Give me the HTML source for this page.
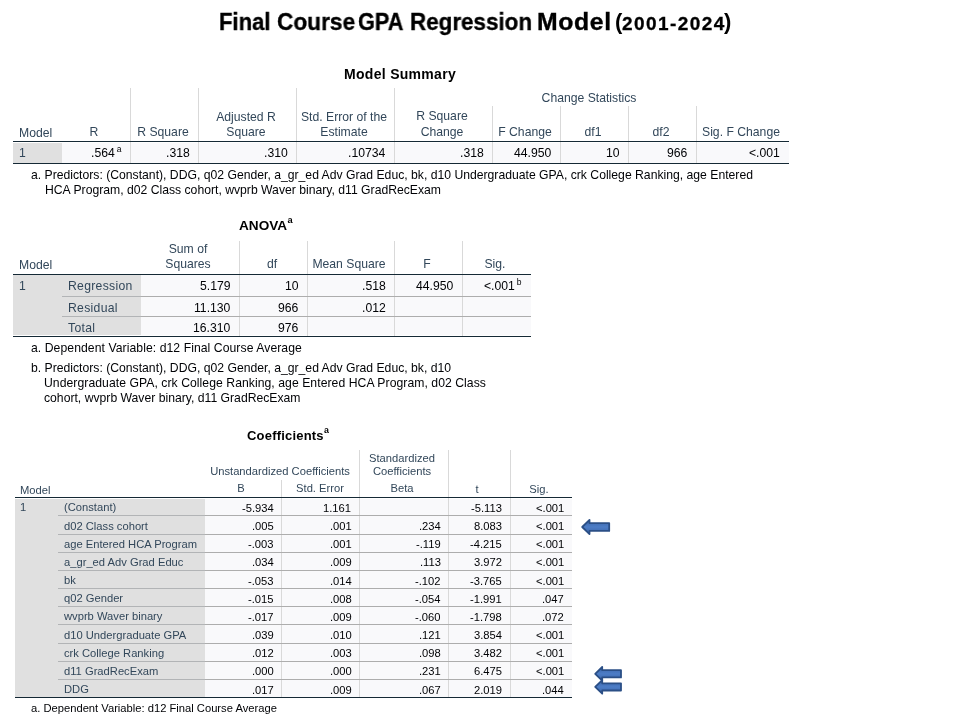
<!DOCTYPE html>
<html><head><meta charset="utf-8"><style>
html,body{margin:0;padding:0;background:#fff;}
body{width:960px;height:720px;position:relative;overflow:hidden;font-family:"Liberation Sans",sans-serif;}
.t{position:absolute;white-space:nowrap;will-change:transform;}
.r{position:absolute;}
sup{font-size:0.7em;line-height:0;vertical-align:4.6px;margin-left:1.9px;margin-right:0.6px;}
sup.ts{font-size:0.68em;font-weight:bold;margin-left:0.3px;vertical-align:0.8em;}
</style></head><body>
<div class="t" style="top:10.71px;font-size:23.5px;line-height:23.5px;color:#000;font-weight:bold;left:218.76px;transform:scaleX(0.9385);transform-origin:0 0;-webkit-text-stroke:0.35px #000;">Final</div>
<div class="t" style="top:10.71px;font-size:23.5px;line-height:23.5px;color:#000;font-weight:bold;left:277.04px;transform:scaleX(0.9646);transform-origin:0 0;-webkit-text-stroke:0.35px #000;">Course</div>
<div class="t" style="top:10.71px;font-size:23.5px;line-height:23.5px;color:#000;font-weight:bold;left:358.28px;transform:scaleX(0.9229);transform-origin:0 0;-webkit-text-stroke:0.35px #000;">GPA</div>
<div class="t" style="top:10.71px;font-size:23.5px;line-height:23.5px;color:#000;font-weight:bold;left:410.25px;transform:scaleX(0.9532);transform-origin:0 0;-webkit-text-stroke:0.35px #000;">Regression</div>
<div class="t" style="top:10.71px;font-size:23.5px;line-height:23.5px;color:#000;font-weight:bold;letter-spacing:0.6px;left:537.45px;transform:scaleX(1.055);transform-origin:0 0;-webkit-text-stroke:0.35px #000;">Model</div>
<div class="t" style="top:11.18px;font-size:22px;line-height:22px;color:#000;font-weight:bold;left:615.20px;">(</div>
<div class="t" style="top:13.82px;font-size:19px;line-height:19px;color:#000;font-weight:bold;letter-spacing:1.43px;left:622.30px;-webkit-text-stroke:0.3px #000;">2001-2024</div>
<div class="t" style="top:11.18px;font-size:22px;line-height:22px;color:#000;font-weight:bold;left:724.00px;">)</div>
<div class="t" style="top:67.15px;font-size:14px;line-height:14px;color:#000;font-weight:bold;letter-spacing:0.3px;left:343.90px;">Model Summary</div>
<div class="r" style="left:13.00px;top:142.50px;width:776.00px;height:20.00px;background:#f9f9fb"></div>
<div class="r" style="left:13.00px;top:142.50px;width:49.00px;height:20.00px;background:#e0e0e0"></div>
<div class="r" style="left:130.00px;top:88.00px;width:1.00px;height:75.30px;background:#d9d9d9"></div>
<div class="r" style="left:198.00px;top:88.00px;width:1.00px;height:75.30px;background:#d9d9d9"></div>
<div class="r" style="left:296.00px;top:88.00px;width:1.00px;height:75.30px;background:#d9d9d9"></div>
<div class="r" style="left:394.00px;top:88.00px;width:1.00px;height:75.30px;background:#d9d9d9"></div>
<div class="r" style="left:492.00px;top:106.00px;width:1.00px;height:57.30px;background:#d9d9d9"></div>
<div class="r" style="left:560.00px;top:106.00px;width:1.00px;height:57.30px;background:#d9d9d9"></div>
<div class="r" style="left:628.00px;top:106.00px;width:1.00px;height:57.30px;background:#d9d9d9"></div>
<div class="r" style="left:696.00px;top:106.00px;width:1.00px;height:57.30px;background:#d9d9d9"></div>
<div class="r" style="left:13.00px;top:140.75px;width:776.00px;height:1.50px;background:#152935"></div>
<div class="r" style="left:13.00px;top:162.55px;width:776.00px;height:1.50px;background:#152935"></div>
<div class="t" style="top:127.17px;font-size:12.2px;line-height:12.2px;color:#32475a;left:19.00px;">Model</div>
<div class="t" style="top:126.37px;font-size:12.2px;line-height:12.2px;color:#32475a;left:-205.75px;width:600px;text-align:center;">R</div>
<div class="t" style="top:126.37px;font-size:12.2px;line-height:12.2px;color:#32475a;left:-137.50px;width:600px;text-align:center;">R Square</div>
<div class="t" style="top:111.17px;font-size:12.2px;line-height:12.2px;color:#32475a;left:-54.50px;width:600px;text-align:center;">Adjusted R</div>
<div class="t" style="top:126.37px;font-size:12.2px;line-height:12.2px;color:#32475a;left:-54.50px;width:600px;text-align:center;">Square</div>
<div class="t" style="top:111.17px;font-size:12.2px;line-height:12.2px;color:#32475a;left:43.50px;width:600px;text-align:center;">Std. Error of the</div>
<div class="t" style="top:126.37px;font-size:12.2px;line-height:12.2px;color:#32475a;left:43.50px;width:600px;text-align:center;">Estimate</div>
<div class="t" style="top:110.37px;font-size:12.2px;line-height:12.2px;color:#32475a;left:141.50px;width:600px;text-align:center;">R Square</div>
<div class="t" style="top:125.57px;font-size:12.2px;line-height:12.2px;color:#32475a;left:141.50px;width:600px;text-align:center;">Change</div>
<div class="t" style="top:91.67px;font-size:12.2px;line-height:12.2px;color:#32475a;left:289.40px;width:600px;text-align:center;">Change Statistics</div>
<div class="t" style="top:126.37px;font-size:12.2px;line-height:12.2px;color:#32475a;left:224.50px;width:600px;text-align:center;">F Change</div>
<div class="t" style="top:126.37px;font-size:12.2px;line-height:12.2px;color:#32475a;left:292.50px;width:600px;text-align:center;">df1</div>
<div class="t" style="top:126.37px;font-size:12.2px;line-height:12.2px;color:#32475a;left:360.50px;width:600px;text-align:center;">df2</div>
<div class="t" style="top:126.37px;font-size:12.2px;line-height:12.2px;color:#32475a;left:440.75px;width:600px;text-align:center;">Sig. F Change</div>
<div class="t" style="top:146.67px;font-size:12.2px;line-height:12.2px;color:#32475a;left:19.00px;">1</div>
<div class="t" style="top:146.67px;font-size:12.2px;line-height:12.2px;color:#010205;right:838.50px;">.564<sup>a</sup></div>
<div class="t" style="top:146.67px;font-size:12.2px;line-height:12.2px;color:#010205;right:770.50px;">.318</div>
<div class="t" style="top:146.67px;font-size:12.2px;line-height:12.2px;color:#010205;right:672.50px;">.310</div>
<div class="t" style="top:146.67px;font-size:12.2px;line-height:12.2px;color:#010205;right:574.50px;">.10734</div>
<div class="t" style="top:146.67px;font-size:12.2px;line-height:12.2px;color:#010205;right:476.50px;">.318</div>
<div class="t" style="top:146.67px;font-size:12.2px;line-height:12.2px;color:#010205;right:408.50px;">44.950</div>
<div class="t" style="top:146.67px;font-size:12.2px;line-height:12.2px;color:#010205;right:340.50px;">10</div>
<div class="t" style="top:146.67px;font-size:12.2px;line-height:12.2px;color:#010205;right:272.50px;">966</div>
<div class="t" style="top:146.67px;font-size:12.2px;line-height:12.2px;color:#010205;right:180.00px;">&lt;.001</div>
<div class="t" style="top:169.42px;font-size:12.2px;line-height:12.2px;color:#010205;left:31.00px;">a. Predictors: (Constant), DDG, q02 Gender, a_gr_ed Adv Grad Educ, bk, d10 Undergraduate GPA, crk College Ranking, age Entered</div>
<div class="t" style="top:184.42px;font-size:12.2px;line-height:12.2px;color:#010205;left:44.50px;">HCA Program, d02 Class cohort, wvprb Waver binary, d11 GradRecExam</div>
<div class="t" style="top:219.19px;font-size:13.6px;line-height:13.6px;color:#000;font-weight:bold;left:238.80px;">ANOVA<sup class="ts">a</sup></div>
<div class="r" style="left:13.00px;top:275.20px;width:517.80px;height:60.30px;background:#f9f9fb"></div>
<div class="r" style="left:13.00px;top:275.20px;width:127.80px;height:60.30px;background:#e0e0e0"></div>
<div class="r" style="left:239.20px;top:240.50px;width:1.00px;height:95.80px;background:#d9d9d9"></div>
<div class="r" style="left:307.00px;top:240.50px;width:1.00px;height:95.80px;background:#d9d9d9"></div>
<div class="r" style="left:394.20px;top:240.50px;width:1.00px;height:95.80px;background:#d9d9d9"></div>
<div class="r" style="left:462.00px;top:240.50px;width:1.00px;height:95.80px;background:#d9d9d9"></div>
<div class="r" style="left:62.00px;top:296.00px;width:78.80px;height:1.00px;background:#b2b4b6"></div>
<div class="r" style="left:140.80px;top:296.00px;width:390.00px;height:1.00px;background:#adadad"></div>
<div class="r" style="left:62.00px;top:315.90px;width:78.80px;height:1.00px;background:#b2b4b6"></div>
<div class="r" style="left:140.80px;top:315.90px;width:390.00px;height:1.00px;background:#adadad"></div>
<div class="r" style="left:13.00px;top:273.65px;width:517.80px;height:1.50px;background:#152935"></div>
<div class="r" style="left:13.00px;top:335.55px;width:517.80px;height:1.50px;background:#152935"></div>
<div class="t" style="top:258.67px;font-size:12.2px;line-height:12.2px;color:#32475a;left:19.00px;">Model</div>
<div class="t" style="top:243.07px;font-size:12.2px;line-height:12.2px;color:#32475a;left:-111.75px;width:600px;text-align:center;">Sum of</div>
<div class="t" style="top:257.67px;font-size:12.2px;line-height:12.2px;color:#32475a;left:-111.75px;width:600px;text-align:center;">Squares</div>
<div class="t" style="top:257.67px;font-size:12.2px;line-height:12.2px;color:#32475a;left:-28.40px;width:600px;text-align:center;">df</div>
<div class="t" style="top:257.67px;font-size:12.2px;line-height:12.2px;color:#32475a;left:49.10px;width:600px;text-align:center;">Mean Square</div>
<div class="t" style="top:257.67px;font-size:12.2px;line-height:12.2px;color:#32475a;left:126.60px;width:600px;text-align:center;">F</div>
<div class="t" style="top:257.67px;font-size:12.2px;line-height:12.2px;color:#32475a;left:194.65px;width:600px;text-align:center;">Sig.</div>
<div class="t" style="top:279.67px;font-size:12.2px;line-height:12.2px;color:#32475a;left:19.00px;">1</div>
<div class="t" style="top:279.67px;font-size:12.2px;line-height:12.2px;color:#32475a;letter-spacing:0.3px;left:68.00px;">Regression</div>
<div class="t" style="top:279.67px;font-size:12.2px;line-height:12.2px;color:#010205;right:729.30px;">5.179</div>
<div class="t" style="top:279.67px;font-size:12.2px;line-height:12.2px;color:#010205;right:661.50px;">10</div>
<div class="t" style="top:279.67px;font-size:12.2px;line-height:12.2px;color:#010205;right:574.30px;">.518</div>
<div class="t" style="top:279.67px;font-size:12.2px;line-height:12.2px;color:#010205;right:506.50px;">44.950</div>
<div class="t" style="top:279.67px;font-size:12.2px;line-height:12.2px;color:#010205;right:438.20px;">&lt;.001<sup>b</sup></div>
<div class="t" style="top:302.37px;font-size:12.2px;line-height:12.2px;color:#32475a;letter-spacing:0.3px;left:68.00px;">Residual</div>
<div class="t" style="top:302.37px;font-size:12.2px;line-height:12.2px;color:#010205;right:729.30px;">11.130</div>
<div class="t" style="top:302.37px;font-size:12.2px;line-height:12.2px;color:#010205;right:661.50px;">966</div>
<div class="t" style="top:302.37px;font-size:12.2px;line-height:12.2px;color:#010205;right:574.30px;">.012</div>
<div class="t" style="top:322.17px;font-size:12.2px;line-height:12.2px;color:#32475a;letter-spacing:0.3px;left:68.00px;">Total</div>
<div class="t" style="top:322.17px;font-size:12.2px;line-height:12.2px;color:#010205;right:729.30px;">16.310</div>
<div class="t" style="top:322.17px;font-size:12.2px;line-height:12.2px;color:#010205;right:661.50px;">976</div>
<div class="t" style="top:342.47px;font-size:12.2px;line-height:12.2px;color:#010205;letter-spacing:0.065px;left:30.70px;">a. Dependent Variable: d12 Final Course Average</div>
<div class="t" style="top:362.27px;font-size:12.2px;line-height:12.2px;color:#010205;left:30.70px;">b. Predictors: (Constant), DDG, q02 Gender, a_gr_ed Adv Grad Educ, bk, d10</div>
<div class="t" style="top:377.17px;font-size:12.2px;line-height:12.2px;color:#010205;letter-spacing:0.053px;left:44.00px;">Undergraduate GPA, crk College Ranking, age Entered HCA Program, d02 Class</div>
<div class="t" style="top:392.07px;font-size:12.2px;line-height:12.2px;color:#010205;left:44.00px;">cohort, wvprb Waver binary, d11 GradRecExam</div>
<div class="t" style="top:429.00px;font-size:13px;line-height:13px;color:#000;font-weight:bold;letter-spacing:0.2px;left:247.00px;">Coefficients<sup class="ts">a</sup></div>
<div class="r" style="left:14.60px;top:498.50px;width:557.40px;height:198.20px;background:#f9f9fb"></div>
<div class="r" style="left:14.60px;top:498.50px;width:190.00px;height:198.20px;background:#e0e0e0"></div>
<div class="r" style="left:281.20px;top:479.60px;width:1.00px;height:217.90px;background:#d9d9d9"></div>
<div class="r" style="left:358.80px;top:450.00px;width:1.00px;height:247.50px;background:#d9d9d9"></div>
<div class="r" style="left:448.30px;top:450.00px;width:1.00px;height:247.50px;background:#d9d9d9"></div>
<div class="r" style="left:509.50px;top:450.00px;width:1.00px;height:247.50px;background:#d9d9d9"></div>
<div class="r" style="left:57.80px;top:515.36px;width:146.80px;height:1.00px;background:#b2b4b6"></div>
<div class="r" style="left:204.60px;top:515.36px;width:367.40px;height:1.00px;background:#adadad"></div>
<div class="r" style="left:57.80px;top:533.53px;width:146.80px;height:1.00px;background:#b2b4b6"></div>
<div class="r" style="left:204.60px;top:533.53px;width:367.40px;height:1.00px;background:#adadad"></div>
<div class="r" style="left:57.80px;top:551.69px;width:146.80px;height:1.00px;background:#b2b4b6"></div>
<div class="r" style="left:204.60px;top:551.69px;width:367.40px;height:1.00px;background:#adadad"></div>
<div class="r" style="left:57.80px;top:569.85px;width:146.80px;height:1.00px;background:#b2b4b6"></div>
<div class="r" style="left:204.60px;top:569.85px;width:367.40px;height:1.00px;background:#adadad"></div>
<div class="r" style="left:57.80px;top:588.02px;width:146.80px;height:1.00px;background:#b2b4b6"></div>
<div class="r" style="left:204.60px;top:588.02px;width:367.40px;height:1.00px;background:#adadad"></div>
<div class="r" style="left:57.80px;top:606.18px;width:146.80px;height:1.00px;background:#b2b4b6"></div>
<div class="r" style="left:204.60px;top:606.18px;width:367.40px;height:1.00px;background:#adadad"></div>
<div class="r" style="left:57.80px;top:624.35px;width:146.80px;height:1.00px;background:#b2b4b6"></div>
<div class="r" style="left:204.60px;top:624.35px;width:367.40px;height:1.00px;background:#adadad"></div>
<div class="r" style="left:57.80px;top:642.51px;width:146.80px;height:1.00px;background:#b2b4b6"></div>
<div class="r" style="left:204.60px;top:642.51px;width:367.40px;height:1.00px;background:#adadad"></div>
<div class="r" style="left:57.80px;top:660.67px;width:146.80px;height:1.00px;background:#b2b4b6"></div>
<div class="r" style="left:204.60px;top:660.67px;width:367.40px;height:1.00px;background:#adadad"></div>
<div class="r" style="left:57.80px;top:678.84px;width:146.80px;height:1.00px;background:#b2b4b6"></div>
<div class="r" style="left:204.60px;top:678.84px;width:367.40px;height:1.00px;background:#adadad"></div>
<div class="r" style="left:14.60px;top:496.95px;width:557.40px;height:1.50px;background:#152935"></div>
<div class="r" style="left:14.60px;top:696.75px;width:557.40px;height:1.50px;background:#152935"></div>
<div class="t" style="top:484.82px;font-size:11.2px;line-height:11.2px;color:#32475a;left:20.00px;">Model</div>
<div class="t" style="top:466.02px;font-size:11.2px;line-height:11.2px;color:#32475a;left:-19.80px;width:600px;text-align:center;">Unstandardized Coefficients</div>
<div class="t" style="top:482.52px;font-size:11.2px;line-height:11.2px;color:#32475a;left:-58.85px;width:600px;text-align:center;">B</div>
<div class="t" style="top:482.52px;font-size:11.2px;line-height:11.2px;color:#32475a;left:19.50px;width:600px;text-align:center;">Std. Error</div>
<div class="t" style="top:452.52px;font-size:11.2px;line-height:11.2px;color:#32475a;left:102.05px;width:600px;text-align:center;">Standardized</div>
<div class="t" style="top:466.02px;font-size:11.2px;line-height:11.2px;color:#32475a;left:102.05px;width:600px;text-align:center;">Coefficients</div>
<div class="t" style="top:482.52px;font-size:11.2px;line-height:11.2px;color:#32475a;left:102.05px;width:600px;text-align:center;">Beta</div>
<div class="t" style="top:483.52px;font-size:11.2px;line-height:11.2px;color:#32475a;left:177.40px;width:600px;text-align:center;">t</div>
<div class="t" style="top:483.52px;font-size:11.2px;line-height:11.2px;color:#32475a;left:239.00px;width:600px;text-align:center;">Sig.</div>
<div class="t" style="top:502.40px;font-size:11.2px;line-height:11.2px;color:#32475a;left:20.00px;">1</div>
<div class="t" style="top:502.40px;font-size:11.2px;line-height:11.2px;color:#32475a;left:64.20px;">(Constant)</div>
<div class="t" style="top:502.90px;font-size:11.2px;line-height:11.2px;color:#010205;right:686.30px;">-5.934</div>
<div class="t" style="top:502.90px;font-size:11.2px;line-height:11.2px;color:#010205;right:608.70px;">1.161</div>
<div class="t" style="top:502.90px;font-size:11.2px;line-height:11.2px;color:#010205;right:458.00px;">-5.113</div>
<div class="t" style="top:502.90px;font-size:11.2px;line-height:11.2px;color:#010205;right:396.00px;">&lt;.001</div>
<div class="t" style="top:520.56px;font-size:11.2px;line-height:11.2px;color:#32475a;left:64.20px;">d02 Class cohort</div>
<div class="t" style="top:521.06px;font-size:11.2px;line-height:11.2px;color:#010205;right:686.30px;">.005</div>
<div class="t" style="top:521.06px;font-size:11.2px;line-height:11.2px;color:#010205;right:608.70px;">.001</div>
<div class="t" style="top:521.06px;font-size:11.2px;line-height:11.2px;color:#010205;right:519.20px;">.234</div>
<div class="t" style="top:521.06px;font-size:11.2px;line-height:11.2px;color:#010205;right:458.00px;">8.083</div>
<div class="t" style="top:521.06px;font-size:11.2px;line-height:11.2px;color:#010205;right:396.00px;">&lt;.001</div>
<div class="t" style="top:538.73px;font-size:11.2px;line-height:11.2px;color:#32475a;left:64.20px;">age Entered HCA Program</div>
<div class="t" style="top:539.23px;font-size:11.2px;line-height:11.2px;color:#010205;right:686.30px;">-.003</div>
<div class="t" style="top:539.23px;font-size:11.2px;line-height:11.2px;color:#010205;right:608.70px;">.001</div>
<div class="t" style="top:539.23px;font-size:11.2px;line-height:11.2px;color:#010205;right:519.20px;">-.119</div>
<div class="t" style="top:539.23px;font-size:11.2px;line-height:11.2px;color:#010205;right:458.00px;">-4.215</div>
<div class="t" style="top:539.23px;font-size:11.2px;line-height:11.2px;color:#010205;right:396.00px;">&lt;.001</div>
<div class="t" style="top:556.89px;font-size:11.2px;line-height:11.2px;color:#32475a;left:64.20px;">a_gr_ed Adv Grad Educ</div>
<div class="t" style="top:557.39px;font-size:11.2px;line-height:11.2px;color:#010205;right:686.30px;">.034</div>
<div class="t" style="top:557.39px;font-size:11.2px;line-height:11.2px;color:#010205;right:608.70px;">.009</div>
<div class="t" style="top:557.39px;font-size:11.2px;line-height:11.2px;color:#010205;right:519.20px;">.113</div>
<div class="t" style="top:557.39px;font-size:11.2px;line-height:11.2px;color:#010205;right:458.00px;">3.972</div>
<div class="t" style="top:557.39px;font-size:11.2px;line-height:11.2px;color:#010205;right:396.00px;">&lt;.001</div>
<div class="t" style="top:575.06px;font-size:11.2px;line-height:11.2px;color:#32475a;left:64.20px;">bk</div>
<div class="t" style="top:575.56px;font-size:11.2px;line-height:11.2px;color:#010205;right:686.30px;">-.053</div>
<div class="t" style="top:575.56px;font-size:11.2px;line-height:11.2px;color:#010205;right:608.70px;">.014</div>
<div class="t" style="top:575.56px;font-size:11.2px;line-height:11.2px;color:#010205;right:519.20px;">-.102</div>
<div class="t" style="top:575.56px;font-size:11.2px;line-height:11.2px;color:#010205;right:458.00px;">-3.765</div>
<div class="t" style="top:575.56px;font-size:11.2px;line-height:11.2px;color:#010205;right:396.00px;">&lt;.001</div>
<div class="t" style="top:593.22px;font-size:11.2px;line-height:11.2px;color:#32475a;left:64.20px;">q02 Gender</div>
<div class="t" style="top:593.72px;font-size:11.2px;line-height:11.2px;color:#010205;right:686.30px;">-.015</div>
<div class="t" style="top:593.72px;font-size:11.2px;line-height:11.2px;color:#010205;right:608.70px;">.008</div>
<div class="t" style="top:593.72px;font-size:11.2px;line-height:11.2px;color:#010205;right:519.20px;">-.054</div>
<div class="t" style="top:593.72px;font-size:11.2px;line-height:11.2px;color:#010205;right:458.00px;">-1.991</div>
<div class="t" style="top:593.72px;font-size:11.2px;line-height:11.2px;color:#010205;right:396.00px;">.047</div>
<div class="t" style="top:611.38px;font-size:11.2px;line-height:11.2px;color:#32475a;left:64.20px;">wvprb Waver binary</div>
<div class="t" style="top:611.88px;font-size:11.2px;line-height:11.2px;color:#010205;right:686.30px;">-.017</div>
<div class="t" style="top:611.88px;font-size:11.2px;line-height:11.2px;color:#010205;right:608.70px;">.009</div>
<div class="t" style="top:611.88px;font-size:11.2px;line-height:11.2px;color:#010205;right:519.20px;">-.060</div>
<div class="t" style="top:611.88px;font-size:11.2px;line-height:11.2px;color:#010205;right:458.00px;">-1.798</div>
<div class="t" style="top:611.88px;font-size:11.2px;line-height:11.2px;color:#010205;right:396.00px;">.072</div>
<div class="t" style="top:629.55px;font-size:11.2px;line-height:11.2px;color:#32475a;left:64.20px;">d10 Undergraduate GPA</div>
<div class="t" style="top:630.05px;font-size:11.2px;line-height:11.2px;color:#010205;right:686.30px;">.039</div>
<div class="t" style="top:630.05px;font-size:11.2px;line-height:11.2px;color:#010205;right:608.70px;">.010</div>
<div class="t" style="top:630.05px;font-size:11.2px;line-height:11.2px;color:#010205;right:519.20px;">.121</div>
<div class="t" style="top:630.05px;font-size:11.2px;line-height:11.2px;color:#010205;right:458.00px;">3.854</div>
<div class="t" style="top:630.05px;font-size:11.2px;line-height:11.2px;color:#010205;right:396.00px;">&lt;.001</div>
<div class="t" style="top:647.71px;font-size:11.2px;line-height:11.2px;color:#32475a;left:64.20px;">crk College Ranking</div>
<div class="t" style="top:648.21px;font-size:11.2px;line-height:11.2px;color:#010205;right:686.30px;">.012</div>
<div class="t" style="top:648.21px;font-size:11.2px;line-height:11.2px;color:#010205;right:608.70px;">.003</div>
<div class="t" style="top:648.21px;font-size:11.2px;line-height:11.2px;color:#010205;right:519.20px;">.098</div>
<div class="t" style="top:648.21px;font-size:11.2px;line-height:11.2px;color:#010205;right:458.00px;">3.482</div>
<div class="t" style="top:648.21px;font-size:11.2px;line-height:11.2px;color:#010205;right:396.00px;">&lt;.001</div>
<div class="t" style="top:665.87px;font-size:11.2px;line-height:11.2px;color:#32475a;left:64.20px;">d11 GradRecExam</div>
<div class="t" style="top:666.37px;font-size:11.2px;line-height:11.2px;color:#010205;right:686.30px;">.000</div>
<div class="t" style="top:666.37px;font-size:11.2px;line-height:11.2px;color:#010205;right:608.70px;">.000</div>
<div class="t" style="top:666.37px;font-size:11.2px;line-height:11.2px;color:#010205;right:519.20px;">.231</div>
<div class="t" style="top:666.37px;font-size:11.2px;line-height:11.2px;color:#010205;right:458.00px;">6.475</div>
<div class="t" style="top:666.37px;font-size:11.2px;line-height:11.2px;color:#010205;right:396.00px;">&lt;.001</div>
<div class="t" style="top:684.04px;font-size:11.2px;line-height:11.2px;color:#32475a;left:64.20px;">DDG</div>
<div class="t" style="top:684.54px;font-size:11.2px;line-height:11.2px;color:#010205;right:686.30px;">.017</div>
<div class="t" style="top:684.54px;font-size:11.2px;line-height:11.2px;color:#010205;right:608.70px;">.009</div>
<div class="t" style="top:684.54px;font-size:11.2px;line-height:11.2px;color:#010205;right:519.20px;">.067</div>
<div class="t" style="top:684.54px;font-size:11.2px;line-height:11.2px;color:#010205;right:458.00px;">2.019</div>
<div class="t" style="top:684.54px;font-size:11.2px;line-height:11.2px;color:#010205;right:396.00px;">.044</div>
<div class="t" style="top:702.82px;font-size:11.2px;line-height:11.2px;color:#010205;left:30.50px;">a. Dependent Variable: d12 Final Course Average</div>
<svg class="r" style="left:0;top:0" width="960" height="720"><defs><linearGradient id="ag" x1="0" y1="0" x2="0" y2="1"><stop offset="0" stop-color="#3a64a8"/><stop offset="0.5" stop-color="#4d7dc6"/><stop offset="1" stop-color="#3a64a8"/></linearGradient></defs><path d="M582.20,527.00 L589.50,519.90 L589.50,523.10 L609.20,523.10 L609.20,530.90 L589.50,530.90 L589.50,534.10 Z" fill="url(#ag)" stroke="#2b4f86" stroke-width="1.8" stroke-linejoin="round"/><path d="M595.20,673.80 L602.20,667.00 L602.20,670.20 L621.00,670.20 L621.00,677.40 L602.20,677.40 L602.20,680.60 Z" fill="url(#ag)" stroke="#2b4f86" stroke-width="1.8" stroke-linejoin="round"/><path d="M595.20,686.90 L602.20,680.10 L602.20,683.30 L621.00,683.30 L621.00,690.50 L602.20,690.50 L602.20,693.70 Z" fill="url(#ag)" stroke="#2b4f86" stroke-width="1.8" stroke-linejoin="round"/></svg>
</body></html>
